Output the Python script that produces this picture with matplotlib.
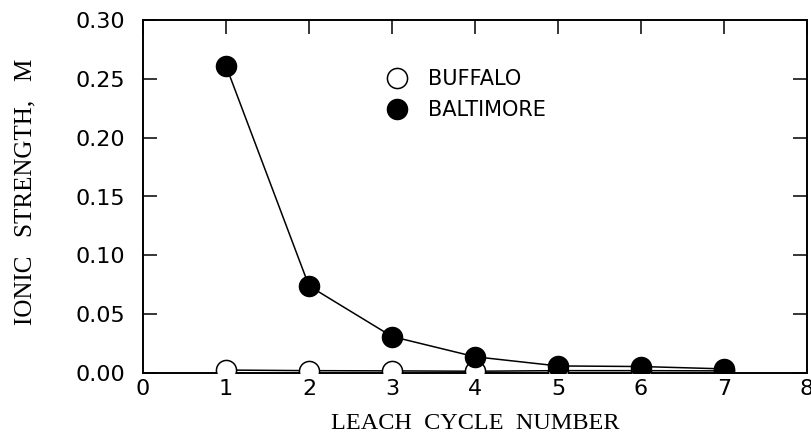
import matplotlib
matplotlib.use("Agg")
import matplotlib.pyplot as plt

cycles = [1, 2, 3, 4, 5, 6, 7]
buffalo = [0.0025, 0.002, 0.0018, 0.0015, 0.002, 0.002, 0.0018]
baltimore = [0.261, 0.074, 0.031, 0.0138, 0.006, 0.0055, 0.0035]

x_ticks = [0, 1, 2, 3, 4, 5, 6, 7, 8]
y_ticks = [0.00, 0.05, 0.10, 0.15, 0.20, 0.25, 0.30]

fig = plt.figure(figsize=(8.12, 4.48), dpi=100)
ax = fig.add_axes([143 / 812, 75 / 448, 664 / 812, 353 / 448])

ax.plot(cycles, buffalo, color="black", lw=1.1, marker="o", ms=14.5,
        mfc="white", mec="black", mew=1.1, label="BUFFALO", zorder=3)
ax.plot(cycles, baltimore, color="black", lw=1.1, marker="o", ms=14.5,
        mfc="black", mec="black", label="BALTIMORE", zorder=4)

ax.set_xlim(0, 8)
ax.set_ylim(0, 0.30)
ax.set_xticks(x_ticks)
ax.set_yticks(y_ticks)
ax.set_xticklabels([str(t) for t in x_ticks], fontfamily="DejaVu Sans", fontsize=16)
ax.set_yticklabels([f"{t:.2f}" for t in y_ticks], fontfamily="DejaVu Sans", fontsize=16)
ax.tick_params(axis="x", direction="in", top=True, bottom=False, length=10, width=1.1, pad=4)
ax.tick_params(axis="y", direction="in", left=True, right=True, length=10, width=1.1, pad=13)
for s in ax.spines.values():
    s.set_linewidth(1.4)

ax.set_xlabel("LEACH  CYCLE  NUMBER", fontfamily="Liberation Serif", fontsize=17.5)
ax.set_ylabel("IONIC   STRENGTH,   M", fontfamily="Liberation Serif", fontsize=18)
ax.xaxis.set_label_coords(0.5, -0.113)
ax.yaxis.set_label_coords(-0.16, 0.513)

leg = ax.legend(loc="center left", bbox_to_anchor=(2.935, 0.2366),
                bbox_transform=ax.transData, frameon=False, borderpad=0,
                borderaxespad=0, prop={"family": "DejaVu Sans", "size": 15},
                handlelength=1.0, handletextpad=0.99, labelspacing=0.51,
                markerscale=1.0)
for h in leg.legend_handles:
    h.set_linestyle("None")

fig.savefig("out.png", dpi=100)
